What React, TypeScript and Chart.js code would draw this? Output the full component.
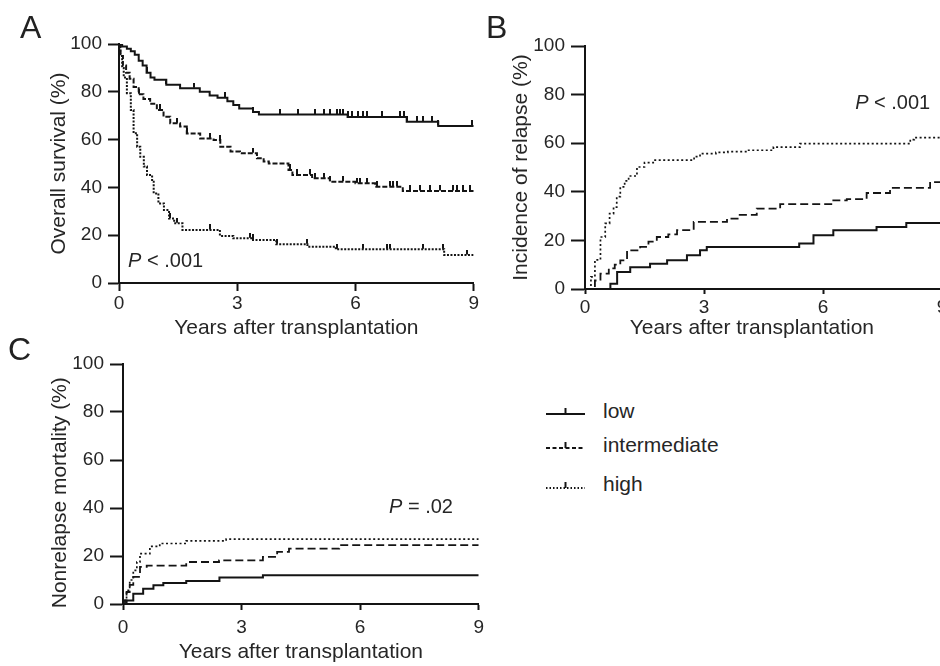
import React, { useEffect, useRef } from "react";
import { Chart, registerables } from "chart.js";

Chart.register(...registerables);

const FONT = "'Liberation Sans', Arial, Helvetica, sans-serif";
const INK = "#141414";
const TEXT = "#262626";

// ---------- Panel A: overall survival (Kaplan-Meier) ----------
const osLowTime = [0, 0.08, 0.2, 0.3, 0.4, 0.5, 0.6, 0.7, 0.8, 0.9, 1.2, 1.55, 2.05, 2.3, 2.5, 2.75, 2.9, 3.05, 3.4, 3.55, 5.8, 7.3, 8.1, 9.0];
const osLowSurv = [100, 99, 98, 97, 95.5, 93, 91, 88, 86, 85, 83, 81.5, 80, 78.5, 77.5, 76, 74.5, 73, 71.5, 70.5, 69.5, 67.5, 65.7, 65.7];
const osIntTime = [0, 0.04, 0.1, 0.18, 0.27, 0.37, 0.5, 0.62, 0.79, 0.96, 1.13, 1.3, 1.55, 1.72, 2.06, 2.4, 2.57, 2.83, 3.07, 3.5, 3.67, 3.8, 4.3, 4.4, 4.9, 5.35, 6.0, 6.5, 7.2, 9.0];
const osIntSurv = [100, 95, 91, 88, 85.5, 82, 79, 77, 75, 72.4, 69.6, 66.8, 65.5, 62.6, 60.5, 59.8, 57, 55, 54.3, 52.2, 50.8, 50, 47.3, 45.2, 43.8, 42.4, 41.7, 40.3, 38.5, 38.5];
const osHighTime = [0, 0.03, 0.08, 0.12, 0.2, 0.3, 0.37, 0.46, 0.54, 0.63, 0.71, 0.84, 0.88, 1.0, 1.14, 1.27, 1.4, 1.61, 2.56, 2.9, 3.4, 3.99, 4.78, 5.5, 8.25, 9.0];
const osHighSurv = [100, 95, 90, 86, 79.4, 72.4, 62.7, 57, 52.8, 48.7, 45.2, 42.4, 37.5, 33.3, 30.5, 27, 25, 22.2, 19.7, 18.7, 18, 16.2, 15.2, 14.1, 11.7, 11.7];
// censored observations (years)
const osLowCensor = [0.7, 1.2, 1.9, 2.7, 3.41, 4.09, 4.55, 4.97, 5.19, 5.36, 5.52, 5.61, 5.69, 5.82, 5.9, 6.07, 6.2, 6.29, 6.67, 7.13, 7.22, 7.3, 7.56, 7.72, 7.94, 8.1, 8.95];
const osIntCensor = [0.5, 1.04, 1.46, 1.72, 2.31, 2.56, 3.41, 4.34, 4.51, 4.85, 4.97, 5.19, 5.36, 5.69, 6.03, 6.12, 6.29, 6.54, 6.88, 6.96, 7.05, 7.39, 7.64, 7.89, 8.15, 8.48, 8.57, 8.74, 8.91];
const osHighCensor = [1.29, 1.46, 2.31, 3.32, 3.41, 4.0, 4.76, 5.52, 6.2, 6.79, 6.88, 7.72, 8.23, 8.82];

// ---------- Panel B: cumulative incidence of relapse ----------
const relLowTime = [0, 0.47, 0.64, 0.81, 1.14, 1.64, 2.07, 2.57, 2.9, 3.07, 5.4, 5.76, 6.26, 7.35, 8.1, 9.0];
const relLowPct = [0, 0, 2.2, 7, 9, 10.4, 11.8, 13.9, 15.9, 17.3, 18.7, 22.1, 24.2, 25.5, 27.2, 27.2];
const relIntTime = [0, 0.1, 0.25, 0.39, 0.6, 0.75, 0.89, 1.06, 1.39, 1.6, 1.81, 2.1, 2.32, 2.74, 3.58, 3.9, 4.33, 4.92, 6.26, 6.6, 7.1, 7.69, 8.7, 9.0];
const relIntPct = [0, 0, 3.5, 6.3, 8.5, 10, 11.8, 15.9, 17.3, 19.5, 21.4, 22.5, 24.2, 27.6, 29, 30.5, 33.1, 34.9, 36.5, 37, 39.5, 41.6, 44, 44];
const relHighTime = [0, 0.05, 0.15, 0.25, 0.39, 0.51, 0.62, 0.72, 0.8, 0.89, 1.0, 1.1, 1.31, 1.5, 1.72, 2.57, 2.75, 2.9, 3.3, 3.6, 4.08, 4.75, 5.42, 8.2, 8.3, 9.0];
const relHighPct = [0, 0, 5, 12, 21.4, 27, 31, 33.7, 38, 42, 44.5, 46.5, 50.2, 52, 53, 53, 54.5, 55.7, 56.2, 56.5, 57.1, 58.4, 59.8, 61.5, 62.3, 62.3];

// ---------- Panel C: nonrelapse mortality ----------
const nrmLowTime = [0, 0.09, 0.26, 0.51, 0.77, 1.02, 1.6, 2.44, 3.54, 9];
const nrmLowPct = [0, 1.5, 4.3, 6.4, 7.8, 8.8, 9.6, 11, 12, 12];
const nrmIntTime = [0, 0.05, 0.09, 0.17, 0.26, 0.43, 0.6, 1.6, 2.43, 3.54, 3.9, 4.2, 5.47, 9];
const nrmIntPct = [0, 1.5, 5, 8, 11.3, 15.5, 16, 17.5, 18.2, 19.6, 21.7, 23.1, 24.5, 24.5];
const nrmHighTime = [0, 0.05, 0.09, 0.17, 0.26, 0.35, 0.43, 0.68, 0.93, 1.6, 2.61, 9];
const nrmHighPct = [0, 2, 5.7, 10, 14, 17.5, 21, 24, 25.2, 26.3, 27, 27];

const groupNames = ["low", "intermediate", "high"];
const yTickValues = [0, 20, 40, 60, 80, 100];
const xTickValues = [0, 3, 6, 9];

type Series = { t: number[]; v: number[]; censor?: number[] };

function toPoints(t: number[], v: number[]) {
  return t.map((x, i) => ({ x, y: v[i] }));
}
function valueAt(t: number[], v: number[], x: number) {
  let val = v[0];
  for (let i = 0; i < t.length; i++) if (t[i] <= x) val = v[i];
  return val;
}

let censorImg: HTMLCanvasElement | null = null;
function getCensorImg() {
  if (censorImg) return censorImg;
  const c = document.createElement("canvas");
  c.width = 2;
  c.height = 11;
  const g = c.getContext("2d")!;
  g.fillStyle = INK;
  g.fillRect(0, 0, 2, 5);
  censorImg = c;
  return c;
}

const pLabelPlugin = {
  id: "pLabel",
  afterDraw(chart: any, _args: any, opts: any) {
    if (!opts || !opts.text) return;
    const { ctx } = chart;
    const xs = chart.scales.x;
    const ys = chart.scales.y;
    const px = xs.getPixelForValue(opts.x);
    const py = ys.getPixelForValue(opts.y);
    ctx.save();
    ctx.fillStyle = TEXT;
    ctx.textBaseline = "middle";
    ctx.textAlign = "left";
    ctx.font = `italic 20px ${FONT}`;
    ctx.fillText("P", px, py);
    const w = ctx.measureText("P").width;
    ctx.font = `20px ${FONT}`;
    ctx.fillText(opts.text, px + w, py);
    ctx.restore();
  },
};

type PanelProps = {
  left: number;
  top: number;
  width: number;
  height: number;
  pad: { left: number; top: number; right: number; bottom: number };
  yWidth: number;
  xHeight: number;
  yTitle: string;
  xTitle: string;
  yTickLen: number;
  yTickPad: number;
  xTickLen: number;
  xTickPad: number;
  xTitlePadBottom: number;
  series: Series[];
  styles: { dash: number[]; width: number }[];
  pLabel: { x: number; y: number; text: string };
};

function Panel(p: PanelProps) {
  const ref = useRef<HTMLCanvasElement | null>(null);
  useEffect(() => {
    if (!ref.current) return;
    const datasets: any[] = [];
    p.series.forEach((s, i) => {
      datasets.push({
        type: "line",
        label: groupNames[i],
        data: toPoints(s.t, s.v),
        stepped: "before",
        borderColor: INK,
        borderWidth: p.styles[i].width,
        borderDash: p.styles[i].dash,
        pointRadius: 0,
        fill: false,
        order: 2,
      });
    });
    p.series.forEach((s, i) => {
      if (!s.censor) return;
      datasets.push({
        type: "scatter",
        label: groupNames[i] + " censored",
        data: s.censor.map((c) => ({ x: c, y: valueAt(s.t, s.v, c) })),
        pointStyle: getCensorImg(),
        pointRadius: 3,
        showLine: false,
        order: 1,
      });
    });
    const tickFont = { family: FONT, size: 19 };
    const titleFont = { family: FONT, size: 21 };
    const chart = new Chart(ref.current, {
      type: "line",
      data: { datasets },
      plugins: [pLabelPlugin],
      options: {
        responsive: false,
        animation: false,
        events: [],
        layout: { padding: p.pad },
        plugins: {
          legend: { display: false },
          tooltip: { enabled: false },
          pLabel: p.pLabel,
        } as any,
        scales: {
          x: {
            type: "linear",
            min: 0,
            max: 9,
            afterBuildTicks: (s: any) => {
              s.ticks = xTickValues.map((v) => ({ value: v }));
            },
            afterFit: (s: any) => {
              s.height = p.xHeight;
            },
            ticks: { font: tickFont, color: TEXT, padding: p.xTickPad, maxRotation: 0 },
            grid: {
              display: true,
              drawOnChartArea: false,
              drawTicks: true,
              tickLength: p.xTickLen,
              tickWidth: 2,
              tickColor: INK,
            },
            border: { display: true, color: INK, width: 2 },
            title: {
              display: true,
              text: p.xTitle,
              font: titleFont,
              color: TEXT,
              padding: { top: 0, bottom: p.xTitlePadBottom },
            },
          },
          y: {
            type: "linear",
            min: 0,
            max: 100,
            afterBuildTicks: (s: any) => {
              s.ticks = yTickValues.map((v) => ({ value: v }));
            },
            afterFit: (s: any) => {
              s.width = p.yWidth;
            },
            ticks: { font: tickFont, color: TEXT, padding: p.yTickPad },
            grid: {
              display: true,
              drawOnChartArea: false,
              drawTicks: true,
              tickLength: p.yTickLen,
              tickWidth: 2,
              tickColor: INK,
            },
            border: { display: true, color: INK, width: 2 },
            title: {
              display: true,
              text: p.yTitle,
              font: titleFont,
              color: TEXT,
              padding: { top: 0, bottom: 0 },
            },
          },
        },
      } as any,
    });
    return () => chart.destroy();
  }, []);
  return (
    <canvas
      ref={ref}
      width={p.width}
      height={p.height}
      style={{ position: "absolute", left: p.left, top: p.top, width: p.width, height: p.height }}
    />
  );
}

function LegendSample({ kind }: { kind: "solid" | "dash" | "dot" }) {
  const dash = kind === "solid" ? undefined : kind === "dash" ? "4 2.5" : "1.5 2";
  return (
    <svg width={40} height={12} style={{ position: "absolute", left: 0, top: 0 }}>
      <line x1={0} y1={9} x2={39} y2={9} stroke={INK} strokeWidth={2} strokeDasharray={dash} />
      <line x1={19.5} y1={3} x2={19.5} y2={9} stroke={INK} strokeWidth={2} />
    </svg>
  );
}

function Legend() {
  const rows: { kind: "solid" | "dash" | "dot"; lineY: number; textTop: number }[] = [
    { kind: "solid", lineY: 414, textTop: 400 },
    { kind: "dash", lineY: 448, textTop: 434 },
    { kind: "dot", lineY: 488, textTop: 473 },
  ];
  return (
    <>
      {rows.map((r, i) => (
        <React.Fragment key={i}>
          <div style={{ position: "absolute", left: 546, top: r.lineY - 9, width: 40, height: 12 }}>
            <LegendSample kind={r.kind} />
          </div>
          <div
            style={{
              position: "absolute",
              left: 603,
              top: r.textTop,
              fontFamily: FONT,
              fontSize: 21,
              lineHeight: "21px",
              color: TEXT,
              whiteSpace: "nowrap",
            }}
          >
            {groupNames[i]}
          </div>
        </React.Fragment>
      ))}
    </>
  );
}

const letterStyle: React.CSSProperties = {
  position: "absolute",
  fontFamily: FONT,
  fontSize: 32,
  lineHeight: "32px",
  color: "#222",
};

export default function App() {
  const thickStyles = [
    { dash: [], width: 2 },
    { dash: [5, 2], width: 2 },
    { dash: [2, 1.5], width: 2 },
  ];
  const thinStyles = [
    { dash: [], width: 2 },
    { dash: [8, 4], width: 1.8 },
    { dash: [2, 2.5], width: 1.7 },
  ];
  return (
    <div
      style={{
        position: "fixed",
        left: 0,
        top: 0,
        width: 940,
        height: 666,
        overflow: "hidden",
        background: "#fff",
      }}
    >
      <Panel
        left={0}
        top={0}
        width={480}
        height={345}
        pad={{ left: 47, top: 44, right: 6, bottom: 0 }}
        yWidth={72}
        xHeight={62}
        yTitle="Overall survival (%)"
        xTitle="Years after transplantation"
        yTickLen={11}
        yTickPad={6}
        xTickLen={8}
        xTickPad={1}
        xTitlePadBottom={4}
        series={[
          { t: osLowTime, v: osLowSurv, censor: osLowCensor },
          { t: osIntTime, v: osIntSurv, censor: osIntCensor },
          { t: osHighTime, v: osHighSurv, censor: osHighCensor },
        ]}
        styles={thickStyles}
        pLabel={{ x: 0.23, y: 9.2, text: " < .001" }}
      />
      <Panel
        left={480}
        top={0}
        width={470}
        height={345}
        pad={{ left: 29, top: 46, right: 8, bottom: 0 }}
        yWidth={76}
        xHeight={56}
        yTitle="Incidence of relapse (%)"
        xTitle={"Years after transplantation    "}
        yTickLen={14}
        yTickPad={6}
        xTickLen={5}
        xTickPad={2}
        xTitlePadBottom={4}
        series={[
          { t: relLowTime, v: relLowPct },
          { t: relIntTime, v: relIntPct },
          { t: relHighTime, v: relHighPct },
        ]}
        styles={thinStyles}
        pLabel={{ x: 6.81, y: 76.2, text: " < .001" }}
      />
      <Panel
        left={0}
        top={330}
        width={490}
        height={336}
        pad={{ left: 48, top: 34, right: 10, bottom: 0 }}
        yWidth={75}
        xHeight={62}
        yTitle={"Nonrelapse mortality (%)   "}
        xTitle="Years after transplantation"
        yTickLen={13}
        yTickPad={6}
        xTickLen={6}
        xTickPad={6}
        xTitlePadBottom={1}
        series={[
          { t: nrmLowTime, v: nrmLowPct },
          { t: nrmIntTime, v: nrmIntPct },
          { t: nrmHighTime, v: nrmHighPct },
        ]}
        styles={thinStyles}
        pLabel={{ x: 6.73, y: 40.2, text: " = .02" }}
      />
      <div style={{ ...letterStyle, left: 20, top: 11 }}>A</div>
      <div style={{ ...letterStyle, left: 486, top: 11 }}>B</div>
      <div style={{ ...letterStyle, left: 8, top: 333 }}>C</div>
      <Legend />
    </div>
  );
}
